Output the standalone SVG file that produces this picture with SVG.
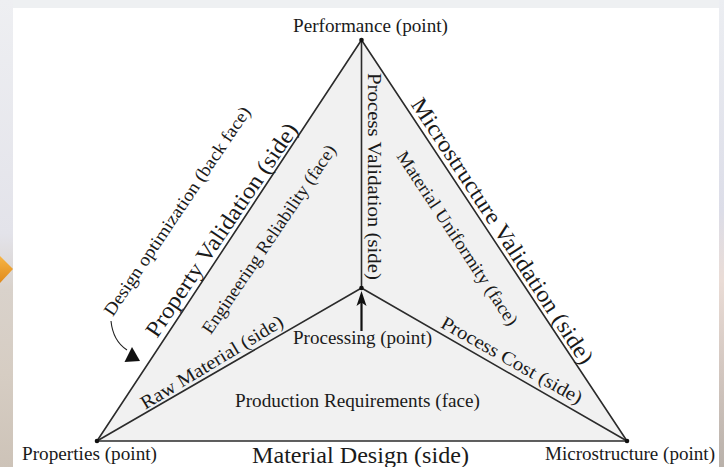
<svg xmlns="http://www.w3.org/2000/svg" width="724" height="467" viewBox="0 0 724 467">
  <defs>
    <linearGradient id="leftStrip" x1="0" y1="0" x2="0" y2="1">
      <stop offset="0" stop-color="#eeeff2"/>
      <stop offset="0.5" stop-color="#e3e3ea"/>
      <stop offset="0.62" stop-color="#d9d2cb"/>
      <stop offset="0.8" stop-color="#d6cdc3"/>
      <stop offset="1" stop-color="#cdc3b8"/>
    </linearGradient>
    <linearGradient id="rightStrip" x1="0" y1="0" x2="0" y2="1">
      <stop offset="0" stop-color="#eceef2"/>
      <stop offset="0.45" stop-color="#dcdde8"/>
      <stop offset="0.6" stop-color="#eadcd6"/>
      <stop offset="0.8" stop-color="#d2c6bf"/>
      <stop offset="1" stop-color="#b9b1aa"/>
    </linearGradient>
    <linearGradient id="orange" x1="0" y1="0" x2="0" y2="1">
      <stop offset="0" stop-color="#f7b544"/>
      <stop offset="1" stop-color="#e08a1c"/>
    </linearGradient>
  </defs>
  <style>
    .edge { stroke: #2b2b2b; stroke-width: 1.6; fill: none; stroke-linecap: round; }
    .dot { fill: #111; }
    .lbl { font-family: "Liberation Serif", "Times New Roman", serif; fill: #1a1a1a; }
    .mid { text-anchor: middle; }
  </style>

  <!-- surrounding backdrop -->
  <rect x="0" y="0" width="724" height="467" fill="#eef0f2"/>
  <rect x="0" y="0" width="13" height="467" fill="url(#leftStrip)"/>
  <rect x="719" y="0" width="5" height="467" fill="url(#rightStrip)"/>
  <polygon points="0,256 13,269 0,283" fill="url(#orange)"/>
  <rect x="13" y="8" width="706" height="459" fill="#ffffff"/>

  <!-- tetrahedron faces -->
  <polygon points="361.5,40 97,441 627,441" fill="#f1f1f1"/>

  <g id="connectors">
    <line class="edge" x1="361.5" y1="40" x2="97" y2="441"/>
    <line class="edge" x1="361.5" y1="40" x2="627" y2="441"/>
    <line class="edge" x1="97" y1="441" x2="627" y2="441"/>
    <line class="edge" x1="361.5" y1="40" x2="361.5" y2="288"/>
    <line class="edge" x1="97" y1="441" x2="361.5" y2="288"/>
    <line class="edge" x1="361.5" y1="288" x2="627" y2="441"/>
    <!-- arrow up into the processing point -->
    <line x1="361.5" y1="331" x2="361.5" y2="300" stroke="#111" stroke-width="2.2"/>
    <polygon points="361.5,291 366.5,306 361.5,302.5 356.5,306" fill="#111"/>
    <!-- back-face pointer -->
    <path d="M111,321 Q113,341 127,350" fill="none" stroke="#222" stroke-width="1.1"/>
    <polygon points="132,347 140,361 124.5,362" fill="#111"/>
  </g>

  <g id="node-performance">
    <circle class="dot" cx="361.5" cy="40" r="2.3"/>
    <text class="lbl" x="293" y="32" font-size="18" textLength="155" lengthAdjust="spacingAndGlyphs">Performance (point)</text>
  </g>
  <g id="node-properties">
    <circle class="dot" cx="97" cy="441" r="2.3"/>
    <text class="lbl" x="22" y="460" font-size="18" textLength="135" lengthAdjust="spacingAndGlyphs">Properties (point)</text>
  </g>
  <g id="node-microstructure">
    <circle class="dot" cx="627" cy="441" r="2.3"/>
    <text class="lbl" x="545" y="460" font-size="18" textLength="170" lengthAdjust="spacingAndGlyphs">Microstructure (point)</text>
  </g>
  <g id="node-processing">
    <circle class="dot" cx="361.5" cy="288" r="2.3"/>
    <text class="lbl" x="293" y="344" font-size="18" textLength="139" lengthAdjust="spacingAndGlyphs">Processing (point)</text>
  </g>

  <g id="side-labels">
    <text class="lbl" x="252" y="463" font-size="24" textLength="217" lengthAdjust="spacingAndGlyphs">Material Design (side)</text>
    <g transform="translate(221.3,229.7) rotate(-55.9)">
      <text class="lbl mid" x="0" y="8" font-size="23" textLength="253" lengthAdjust="spacingAndGlyphs">Property Validation (side)</text>
    </g>
    <g transform="translate(502.8,230.8) rotate(56.75)">
      <text class="lbl mid" x="0" y="8" font-size="23" textLength="313" lengthAdjust="spacingAndGlyphs">Microstructure Validation (side)</text>
    </g>
    <g transform="translate(374,176.5) rotate(90)">
      <text class="lbl mid" x="0" y="6.5" font-size="19" textLength="207" lengthAdjust="spacingAndGlyphs">Process Validation (side)</text>
    </g>
    <g transform="translate(211.7,362) rotate(-31.2)">
      <text class="lbl mid" x="0" y="6.5" font-size="19" textLength="163" lengthAdjust="spacingAndGlyphs">Raw Material (side)</text>
    </g>
    <g transform="translate(512,360) rotate(29.4)">
      <text class="lbl mid" x="0" y="6.5" font-size="19" textLength="159" lengthAdjust="spacingAndGlyphs">Process Cost (side)</text>
    </g>
  </g>

  <g id="face-labels">
    <text class="lbl" x="235" y="407" font-size="18" textLength="245" lengthAdjust="spacingAndGlyphs">Production Requirements (face)</text>
    <g transform="translate(268.8,239.2) rotate(-55.8)">
      <text class="lbl mid" x="0" y="6" font-size="18" textLength="224" lengthAdjust="spacingAndGlyphs">Engineering Reliability (face)</text>
    </g>
    <g transform="translate(457.5,238.3) rotate(56.6)">
      <text class="lbl mid" x="0" y="6" font-size="18" textLength="205" lengthAdjust="spacingAndGlyphs">Material Uniformity (face)</text>
    </g>
    <g transform="translate(177,211) rotate(-56)">
      <text class="lbl mid" x="0" y="6" font-size="18" textLength="248" lengthAdjust="spacingAndGlyphs">Design optimization (back face)</text>
    </g>
  </g>
</svg>
